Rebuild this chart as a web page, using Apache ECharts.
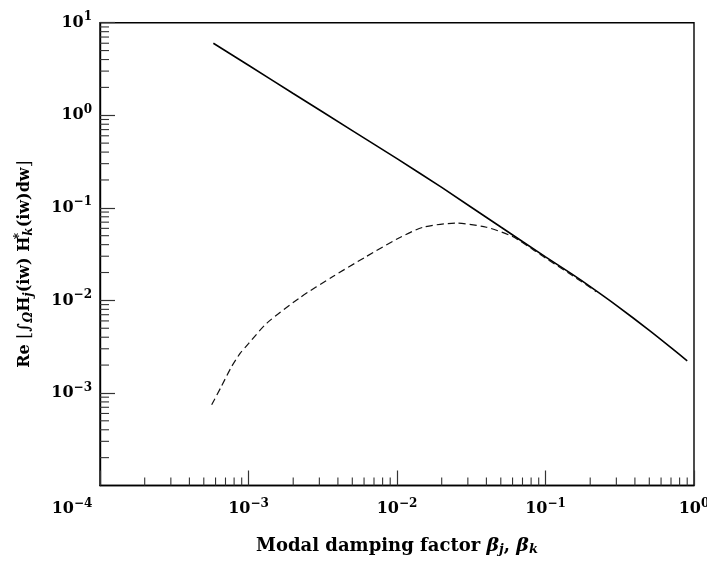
<!DOCTYPE html>
<html>
<head>
<meta charset="utf-8">
<script src="https://cdn.jsdelivr.net/npm/echarts@6/dist/echarts.min.js"></script>
<style>html,body{margin:0;padding:0;background:#fff}#c{width:707px;height:563px}</style>
</head>
<body>
<div id="c"></div>
<script>
// Solid curve
const xSolid = [5.8e-4, 1e-3, 2e-3, 5e-3, 1e-2, 2e-2, 5e-2, 0.1, 0.15, 0.2, 0.3, 0.5, 0.7, 0.9];
const ySolid = [6.0, 3.47, 1.72, 0.683, 0.34, 0.166, 0.062, 0.0295, 0.0193, 0.0141, 0.00885, 0.00475, 0.00309, 0.00222];
// Dashed curve
const xDash = [5.65e-4, 6.5e-4, 7.7e-4, 8.8e-4, 1.0e-3, 1.33e-3, 2.2e-3, 3.7e-3, 6.2e-3, 1.0e-2, 1.5e-2, 2.5e-2, 4.0e-2, 6.0e-2, 8.3e-2, 0.1, 0.15, 0.22];
const yDash = [7.45e-4, 1.14e-3, 1.93e-3, 2.69e-3, 3.41e-3, 5.68e-3, 0.0106, 0.0181, 0.0297, 0.046, 0.0617, 0.0683, 0.0617, 0.0489, 0.0351, 0.0287, 0.0188, 0.0124];
// Axis ranges / ticks
const xMin = 1e-4, xMax = 1;
const yMin = 1e-4, yMax = 10;
const xDecades = [-4, -3, -2, -1];
const yDecades = [-4, -3, -2, -1, 0];
const mantissas = [2, 3, 4, 5, 6, 7, 8, 9];

const xMinor = [];
xDecades.forEach(k => mantissas.forEach(m => xMinor.push(m * Math.pow(10, k))));
const yMinor = [];
yDecades.forEach(k => mantissas.forEach(m => yMinor.push(m * Math.pow(10, k))));

const FONT = 'DejaVu Serif';
const rich = {
  b: { fontFamily: FONT, fontSize: 16, fontWeight: 'bold', color: '#000' },
  e: { fontFamily: FONT, fontSize: 12, fontWeight: 'bold', color: '#000', padding: [0, 0, 11, 0] },
  bm: { fontFamily: FONT, fontSize: 16, fontWeight: 'bold', color: '#000' },
  em: { fontFamily: FONT, fontSize: 12, fontWeight: 'bold', color: '#000', padding: [0, 56, 11, 0] }
};
function powLabel(v, isMinX) {
  const e = Math.round(Math.log10(v));
  const es = (e < 0 ? '\u2212' + (-e) : '' + e);
  if (isMinX) return '{bm|10}{em|' + es + '}';
  return '{b|10}{e|' + es + '}';
}

const chart = echarts.init(document.getElementById('c'), null, { renderer: 'canvas' });
chart.setOption({
  animation: false,
  backgroundColor: '#fff',
  grid: { left: 100, top: 22.7, right: 13, bottom: 77.5, show: true, borderColor: '#000', borderWidth: 1.4, containLabel: false, outerBoundsMode: 'none' },
  xAxis: {
    type: 'log', logBase: 10, min: xMin, max: xMax,
    name: '{n|Modal damping factor }{g|β}{s|j}{n|, }{g|β}{s|k}',
    nameLocation: 'middle', nameGap: 50,
    nameTextStyle: {
      rich: {
        n: { fontFamily: FONT, fontSize: 18, fontWeight: 'bold', color: '#000' },
        g: { fontFamily: FONT, fontSize: 19, fontStyle: 'italic', fontWeight: 'bold', color: '#000' },
        s: { fontFamily: FONT, fontSize: 13, fontStyle: 'italic', fontWeight: 'bold', color: '#000', padding: [8, 0, 0, 0] }
      }
    },
    axisLine: { lineStyle: { color: '#000', width: 1.4 } },
    axisTick: { inside: true, length: 15, lineStyle: { color: '#333', width: 1.2 } },
    minorTick: { show: false },
    splitLine: { show: false },
    axisLabel: {
      margin: 12,
      formatter: (v) => powLabel(v, Math.abs(Math.log10(v) - Math.log10(xMin)) < 1e-6),
      rich: rich
    }
  },
  yAxis: {
    type: 'log', logBase: 10, min: yMin, max: yMax,
    name: '{t|Re }{br|\u230A}{t|\u222B}{sub|\u03A9}{t|H}{sub|j}{t|(iw) H}{sup|*}{sub|k}{t|(iw)dw}{br|\u230B}',
    nameLocation: 'middle', nameGap: 64,
    nameTextStyle: {
      padding: [0, 20, 0, 0],
      rich: {
        t: { fontFamily: FONT, fontSize: 16, fontWeight: 'bold', color: '#000' },
        br: { fontFamily: FONT, fontSize: 18, color: '#000' },
        sub: { fontFamily: FONT, fontSize: 12, fontStyle: 'italic', fontWeight: 'bold', color: '#000', padding: [8, 0, 0, 0] },
        sup: { fontFamily: FONT, fontSize: 12, fontWeight: 'bold', color: '#000', width: 1, padding: [0, 0, 10, 0] }
      }
    },
    axisLine: { lineStyle: { color: '#000', width: 1.4 } },
    axisTick: { inside: true, length: 15, lineStyle: { color: '#333', width: 1.2 } },
    minorTick: { show: false },
    splitLine: { show: false },
    axisLabel: {
      margin: 8,
      showMinLabel: false,
      formatter: (v) => powLabel(v, false),
      rich: rich
    }
  },
  series: [
    {
      type: 'line', name: 'solid', symbol: 'none', smooth: 0.2,
      data: xSolid.map((x, i) => [x, ySolid[i]]),
      lineStyle: { color: '#000', width: 1.6, type: 'solid' }
    },
    {
      type: 'line', name: 'dashed', symbol: 'none', smooth: 0.25,
      data: xDash.map((x, i) => [x, yDash[i]]),
      lineStyle: { color: '#111', width: 1.2, type: [7, 4] }
    },
    {
      type: 'custom', name: 'xminor', silent: true,
      data: xMinor.map(v => [v, yMin]),
      renderItem: (params, api) => {
        const p = api.coord([api.value(0), yMin]);
        return { type: 'line', shape: { x1: p[0], y1: p[1], x2: p[0], y2: p[1] - 8 }, style: { stroke: '#333', lineWidth: 1.1 } };
      }
    },
    {
      type: 'custom', name: 'yminor', silent: true,
      data: yMinor.map(v => [xMin, v]),
      renderItem: (params, api) => {
        const p = api.coord([xMin, api.value(1)]);
        return { type: 'line', shape: { x1: p[0], y1: p[1], x2: p[0] + 9, y2: p[1] }, style: { stroke: '#333', lineWidth: 1.1 } };
      }
    }
  ]
});
</script>
</body>
</html>
